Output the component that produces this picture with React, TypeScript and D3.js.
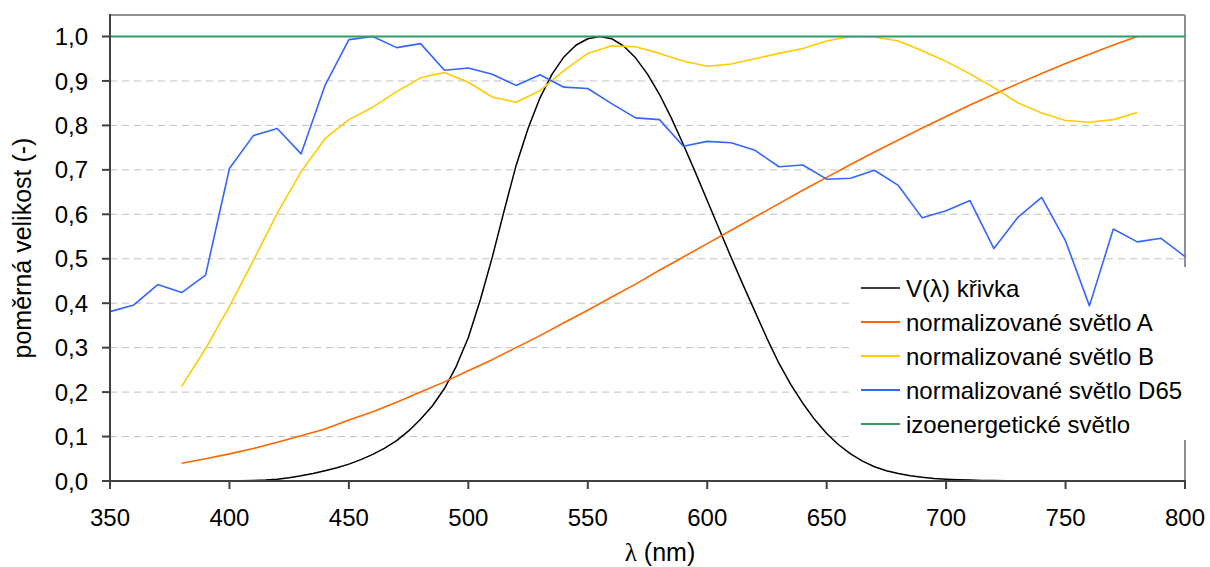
import * as d3 from "d3";

// wavelengths (nm) for the 10 nm series
const wl10 = d3.range(380, 790, 10);
const wlD65 = d3.range(350, 810, 10);

// V(λ) photopic curve, 5 nm step 380..780
const wlV = d3.range(380, 785, 5);
const vLambda = [
  0.00004, 0.00006, 0.00012, 0.00022, 0.0004, 0.00064, 0.0012, 0.0022, 0.004, 0.0073,
  0.0116, 0.0168, 0.023, 0.0298, 0.038, 0.048, 0.06, 0.0739, 0.091, 0.1126,
  0.139, 0.1693, 0.208, 0.2586, 0.323, 0.4073, 0.503, 0.6082, 0.71, 0.7932,
  0.862, 0.9149, 0.954, 0.9803, 0.995, 1.0, 0.995, 0.9786, 0.952, 0.9154,
  0.87, 0.8163, 0.757, 0.6949, 0.631, 0.5668, 0.503, 0.4412, 0.381, 0.321,
  0.265, 0.217, 0.175, 0.1382, 0.107, 0.0816, 0.061, 0.0446, 0.032, 0.0232,
  0.017, 0.0119, 0.0082, 0.0057, 0.0041, 0.0029, 0.0021, 0.0014, 0.001, 0.0007,
  0.0005, 0.0004, 0.0002, 0.0002, 0.0001, 0.0001, 0.0001, 0.0, 0.0, 0.0, 0.0,
];

// illuminant A, normalised to 780 nm
const lightA = [
  0.040, 0.050, 0.061, 0.073, 0.087, 0.102, 0.117, 0.137, 0.156, 0.177,
  0.200, 0.223, 0.248, 0.273, 0.300, 0.327, 0.356, 0.384, 0.414, 0.443,
  0.474, 0.504, 0.534, 0.564, 0.594, 0.624, 0.654, 0.683, 0.712, 0.740,
  0.767, 0.794, 0.820, 0.846, 0.870, 0.894, 0.917, 0.939, 0.960, 0.981, 1.0,
];

// illuminant B, normalised to max
const lightB = [
  0.213, 0.298, 0.393, 0.496, 0.602, 0.696, 0.770, 0.813, 0.841, 0.876,
  0.907, 0.919, 0.897, 0.864, 0.852, 0.878, 0.923, 0.962, 0.979, 0.977,
  0.962, 0.945, 0.933, 0.938, 0.950, 0.962, 0.973, 0.990, 1.0, 0.999,
  0.990, 0.968, 0.944, 0.916, 0.885, 0.851, 0.828, 0.811, 0.807, 0.813, 0.829,
];

// illuminant D65, normalised to max, 350..800
const lightD65 = [
  0.381, 0.396, 0.442, 0.424, 0.463, 0.703, 0.777, 0.793, 0.736, 0.890,
  0.993, 1.0, 0.975, 0.984, 0.924, 0.929, 0.915, 0.890, 0.914, 0.886,
  0.883, 0.849, 0.817, 0.813, 0.753, 0.764, 0.761, 0.744, 0.707, 0.711,
  0.679, 0.681, 0.699, 0.665, 0.592, 0.608, 0.631, 0.523, 0.593, 0.638,
  0.540, 0.394, 0.567, 0.538, 0.546, 0.505,
];

const isoWl = [350, 800];
const isoVal = [1, 1];

const xTicks = [350, 400, 450, 500, 550, 600, 650, 700, 750, 800];
const yTicks = [0, 0.1, 0.2, 0.3, 0.4, 0.5, 0.6, 0.7, 0.8, 0.9, 1.0];

const legendNames = [
  "V(λ) křivka",
  "normalizované světlo A",
  "normalizované světlo B",
  "normalizované světlo D65",
  "izoenergetické světlo",
];
const colors = ["#000000", "#ff6600", "#ffcc00", "#3366ff", "#339966"];

const font = "'Liberation Sans', Arial, sans-serif";

export default function App() {
  const W = 1210, H = 567;
  const left = 110, right = 1185, top = 15, bottom = 481;

  const x = d3.scaleLinear().domain([350, 800]).range([left, right]);
  const y = d3.scaleLinear().domain([0, 1.0]).range([bottom, 36.5]);

  const line = d3
    .line<[number, number]>()
    .x((d) => x(d[0]))
    .y((d) => y(d[1]));

  const series: [number, number][][] = [
    wlV.map((w, i) => [w, vLambda[i]]),
    wl10.map((w, i) => [w, lightA[i]]),
    wl10.map((w, i) => [w, lightB[i]]),
    wlD65.map((w, i) => [w, lightD65[i]]),
    isoWl.map((w, i) => [w, isoVal[i]]),
  ];

  const fmt = (v: number) => v.toFixed(1).replace(".", ",");

  return (
    <svg
      width={W}
      height={H}
      style={{ position: "absolute", left: 0, top: 0, background: "#fff" }}
      fontFamily={font}
    >
      <rect width={W} height={H} fill="#fff" />

      {/* grid */}
      {yTicks
        .filter((t) => t > 0 && t < 1)
        .map((t) => (
          <line
            key={"g" + t}
            x1={left}
            x2={right}
            y1={y(t)}
            y2={y(t)}
            stroke="#c0c0c0"
            strokeWidth={1}
            strokeDasharray="7,5"
          />
        ))}

      {/* legend background */}
      <rect x={850} y={267} width={342} height={173} fill="#fff" />

      {/* frame */}
      <line x1={left} x2={right} y1={top} y2={top} stroke="#909090" strokeWidth={2} />
      <line x1={right} x2={right} y1={top} y2={267} stroke="#909090" strokeWidth={2} />
      <line x1={right} x2={right} y1={440} y2={bottom} stroke="#909090" strokeWidth={2} />

      {/* series */}
      {series.map((s, i) => (
        <path
          key={"s" + i}
          d={line(s) || ""}
          fill="none"
          stroke={colors[i]}
          strokeWidth={i === 0 ? 1.5 : i === 4 ? 2 : 1.6}
          strokeLinejoin="round"
        />
      ))}

      {/* axes */}
      <line x1={left} x2={left} y1={top - 1} y2={bottom} stroke="#404040" strokeWidth={2} />
      <line x1={left} x2={right + 1} y1={bottom} y2={bottom} stroke="#404040" strokeWidth={2} />
      {yTicks.map((t) => (
        <g key={"yt" + t}>
          <line x1={left - 8} x2={left} y1={y(t)} y2={y(t)} stroke="#404040" strokeWidth={2} />
          <text x={88} y={y(t)} dy="0.36em" textAnchor="end" fontSize={24} fill="#000">
            {fmt(t)}
          </text>
        </g>
      ))}
      {xTicks.map((t) => (
        <g key={"xt" + t}>
          <line x1={x(t)} x2={x(t)} y1={bottom} y2={bottom + 8} stroke="#404040" strokeWidth={2} />
          <text x={x(t)} y={526} textAnchor="middle" fontSize={24} fill="#000">
            {t}
          </text>
        </g>
      ))}

      {/* axis titles */}
      <text
        transform={`translate(31,${(top + bottom) / 2}) rotate(-90)`}
        textAnchor="middle"
        fontSize={25}
        fill="#000"
      >
        poměrná velikost (-)
      </text>
      <text x={660} y={561} textAnchor="middle" fontSize={25} fill="#000">
        <tspan fontFamily="'Liberation Serif', serif">λ</tspan> (nm)
      </text>

      {/* legend */}
      {legendNames.map((n, i) => (
        <g key={"l" + i}>
          <line
            x1={861}
            x2={900}
            y1={288 + i * 34}
            y2={288 + i * 34}
            stroke={colors[i]}
            strokeWidth={i === 0 ? 1.5 : 2}
          />
          <text x={906} y={288 + i * 34} dy="0.36em" fontSize={24} fill="#000">
            {n}
          </text>
        </g>
      ))}
    </svg>
  );
}
